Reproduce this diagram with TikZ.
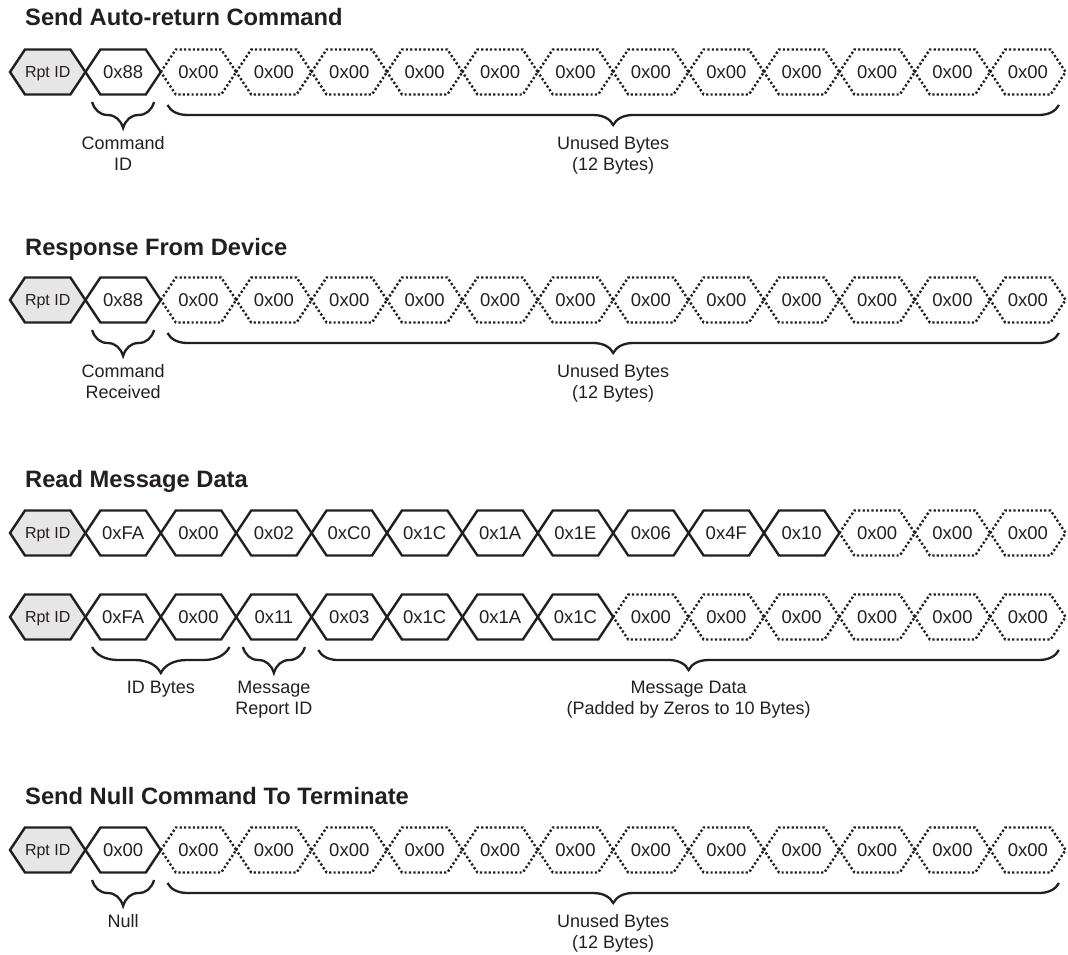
\documentclass[tikz,border=0pt]{standalone}
\usepackage{fontspec}
\setmainfont{Liberation Sans}
\usetikzlibrary{decorations.pathreplacing,calc}
\definecolor{ink}{HTML}{231F20}
\definecolor{idgray}{HTML}{E6E6E7}

\tikzset{
  hexline/.style={draw=ink, line width=2.4pt, line join=miter},
  rptcell/.style={hexline, fill=idgray},
  solidcell/.style={hexline},
  dotcell/.style={draw=ink, line width=2.4pt, dash pattern=on 2.2pt off 2.2pt},
  celltext/.style={inner sep=0pt, text height=13pt, text depth=0pt, text=ink,
    font=\fontsize{18.5}{22}\selectfont},
  solidtext/.style={celltext},
  dottext/.style={celltext},
  rpttext/.style={celltext, text height=11.5pt, font=\fontsize{16}{19}\selectfont},
  title/.style={anchor=base west, inner sep=0pt, text=ink,
    font=\fontsize{23.7}{28}\selectfont\bfseries},
  bytebrace/.style={draw=ink, line width=2.3pt, decorate,
    decoration={brace, mirror, amplitude=#1}},
  bytebrace/.default=24pt,
  bracelabel/.style={anchor=north, inner sep=0pt, align=center, text=ink,
    font=\fontsize{18}{21}\selectfont},
}

% one byte of a report: hexagon outline plus its value
% #1 node name, #2 column, #3 row centre, #4 kind (rpt/solid/dot), #5 value
\newcommand\bytecell[5]{%
  \path[#4cell] ({75.4*#2+10},#3) -- ++(15,-22.5) -- ++(45.4,0)
    -- ++(15,22.5) -- ++(-15,22.5) -- ++(-45.4,0) -- cycle;
  \node[#4text] (#1) at ({75.4*#2+47.7},#3) {#5};}

\begin{document}
\begin{tikzpicture}[x=1pt, y=-1pt]
\useasboundingbox (0,0) rectangle (1068,955);

% ---------------- Send Auto-return Command
\node[title] (t1) at (25,26) {Send Auto-return Command};
\bytecell{a0}{0}{72}{rpt}{Rpt ID}
\bytecell{a1}{1}{72}{solid}{0x88}
\foreach \c in {2,...,13} {\bytecell{a\c}{\c}{72}{dot}{0x00}}
\draw[bytebrace=26pt] ([xshift=-31pt,yshift=-30pt]a1.center) -- ([xshift=31pt,yshift=-30pt]a1.center);
\node[bracelabel] (la1) at ($(a1.center)+(0,64)$) {Command\\ID};
\draw[bytebrace=20pt] ([xshift=-31pt,yshift=-33pt]a2.center) -- ([xshift=31pt,yshift=-33pt]a13.center);
\node[bracelabel] (la2) at ($(a2.center)!0.5!(a13.center)+(0,64)$) {Unused Bytes\\(12 Bytes)};

% ---------------- Response From Device
\node[title] (t2) at (25,255) {Response From Device};
\bytecell{b0}{0}{300}{rpt}{Rpt ID}
\bytecell{b1}{1}{300}{solid}{0x88}
\foreach \c in {2,...,13} {\bytecell{b\c}{\c}{300}{dot}{0x00}}
\draw[bytebrace=26pt] ([xshift=-31pt,yshift=-30pt]b1.center) -- ([xshift=31pt,yshift=-30pt]b1.center);
\node[bracelabel] (lb1) at ($(b1.center)+(0,64)$) {Command\\Received};
\draw[bytebrace=20pt] ([xshift=-31pt,yshift=-33pt]b2.center) -- ([xshift=31pt,yshift=-33pt]b13.center);
\node[bracelabel] (lb2) at ($(b2.center)!0.5!(b13.center)+(0,64)$) {Unused Bytes\\(12 Bytes)};

% ---------------- Read Message Data
\node[title] (t3) at (25,487) {Read Message Data};
\bytecell{c0}{0}{533}{rpt}{Rpt ID}
\foreach \v [count=\c] in {0xFA,0x00,0x02,0xC0,0x1C,0x1A,0x1E,0x06,0x4F,0x10}
  {\bytecell{c\c}{\c}{533}{solid}{\v}}
\foreach \c in {11,...,13} {\bytecell{c\c}{\c}{533}{dot}{0x00}}

\bytecell{d0}{0}{617}{rpt}{Rpt ID}
\foreach \v [count=\c] in {0xFA,0x00,0x11,0x03,0x1C,0x1A,0x1C}
  {\bytecell{d\c}{\c}{617}{solid}{\v}}
\foreach \c in {8,...,13} {\bytecell{d\c}{\c}{617}{dot}{0x00}}
\draw[bytebrace=26pt] ([xshift=-31pt,yshift=-30pt]d1.center) -- ([xshift=31pt,yshift=-30pt]d2.center);
\node[bracelabel] (ld1) at ($(d1.center)!0.5!(d2.center)+(0,64)$) {ID Bytes};
\draw[bytebrace=26pt] ([xshift=-31pt,yshift=-30pt]d3.center) -- ([xshift=31pt,yshift=-30pt]d3.center);
\node[bracelabel] (ld2) at ($(d3.center)+(0,64)$) {Message\\Report ID};
\draw[bytebrace=20pt] ([xshift=-31pt,yshift=-33pt]d4.center) -- ([xshift=31pt,yshift=-33pt]d13.center);
\node[bracelabel] (ld3) at ($(d4.center)!0.5!(d13.center)+(0,64)$) {Message Data\\(Padded by Zeros to 10 Bytes)};

% ---------------- Send Null Command To Terminate
\node[title] (t4) at (25,804) {Send Null Command To Terminate};
\bytecell{e0}{0}{850}{rpt}{Rpt ID}
\bytecell{e1}{1}{850}{solid}{0x00}
\foreach \c in {2,...,13} {\bytecell{e\c}{\c}{850}{dot}{0x00}}
\draw[bytebrace=26pt] ([xshift=-31pt,yshift=-30pt]e1.center) -- ([xshift=31pt,yshift=-30pt]e1.center);
\node[bracelabel] (le1) at ($(e1.center)+(0,64)$) {Null};
\draw[bytebrace=20pt] ([xshift=-31pt,yshift=-33pt]e2.center) -- ([xshift=31pt,yshift=-33pt]e13.center);
\node[bracelabel] (le2) at ($(e2.center)!0.5!(e13.center)+(0,64)$) {Unused Bytes\\(12 Bytes)};
\end{tikzpicture}
\end{document}
